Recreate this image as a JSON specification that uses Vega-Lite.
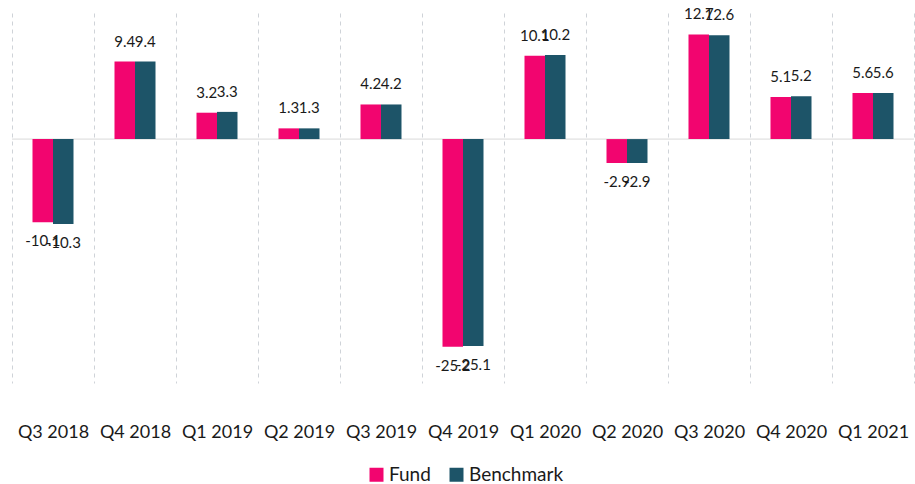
{
  "$schema": "https://vega.github.io/schema/vega-lite/v6.json",
  "width": 902,
  "height": 370,
  "autosize": "none",
  "padding": {"left": 12, "top": 13, "right": 1, "bottom": 101},
  "background": "white",
  "config": {"view": {"stroke": null}, "font": "Lato",
    "locale": {"number": {"decimal": ".", "thousands": ",", "grouping": [3], "currency": ["$", ""], "minus": "-"}}},
  "data": {"values": [
    {"q": "Q3 2018", "s": "Fund", "v": -10.1}, {"q": "Q3 2018", "s": "Benchmark", "v": -10.3},
    {"q": "Q4 2018", "s": "Fund", "v": 9.4}, {"q": "Q4 2018", "s": "Benchmark", "v": 9.4},
    {"q": "Q1 2019", "s": "Fund", "v": 3.2}, {"q": "Q1 2019", "s": "Benchmark", "v": 3.3},
    {"q": "Q2 2019", "s": "Fund", "v": 1.3}, {"q": "Q2 2019", "s": "Benchmark", "v": 1.3},
    {"q": "Q3 2019", "s": "Fund", "v": 4.2}, {"q": "Q3 2019", "s": "Benchmark", "v": 4.2},
    {"q": "Q4 2019", "s": "Fund", "v": -25.2}, {"q": "Q4 2019", "s": "Benchmark", "v": -25.1},
    {"q": "Q1 2020", "s": "Fund", "v": 10.1}, {"q": "Q1 2020", "s": "Benchmark", "v": 10.2},
    {"q": "Q2 2020", "s": "Fund", "v": -2.9}, {"q": "Q2 2020", "s": "Benchmark", "v": -2.9},
    {"q": "Q3 2020", "s": "Fund", "v": 12.7}, {"q": "Q3 2020", "s": "Benchmark", "v": 12.6},
    {"q": "Q4 2020", "s": "Fund", "v": 5.1}, {"q": "Q4 2020", "s": "Benchmark", "v": 5.2},
    {"q": "Q1 2021", "s": "Fund", "v": 5.6}, {"q": "Q1 2021", "s": "Benchmark", "v": 5.6}
  ]},
  "encoding": {
    "x": {"field": "q", "type": "nominal", "sort": null,
      "scale": {"paddingInner": 0, "paddingOuter": 0},
      "axis": {"title": null, "domain": false, "ticks": false, "labelAngle": 0,
        "labelPadding": 40, "labelFontSize": 18, "labelColor": "#1a1a1a", "labelFont": "Lato",
        "grid": true, "tickBand": "extent", "gridDash": [4, 4], "gridColor": "#cfd3d8", "gridWidth": 1}},
    "xOffset": {"field": "s", "type": "nominal", "sort": ["Fund", "Benchmark"],
      "scale": {"paddingInner": 0, "paddingOuter": 1}},
    "y": {"field": "v", "type": "quantitative", "scale": {"domain": [-29.6, 15.3], "nice": false, "zero": true}, "axis": null}
  },
  "layer": [
    {
      "mark": {"type": "rule", "color": "#d9d9d9", "strokeWidth": 1},
      "data": {"values": [{"z": 0}]},
      "encoding": {"y": {"field": "z", "type": "quantitative"}, "x": null, "xOffset": null}
    },
    {
      "mark": {"type": "bar"},
      "encoding": {
        "color": {"field": "s", "type": "nominal", "sort": ["Fund", "Benchmark"],
          "scale": {"domain": ["Fund", "Benchmark"], "range": ["#F2056F", "#1D5468"]},
          "legend": {"title": null, "orient": "none", "legendX": 355, "legendY": 452, "direction": "horizontal",
            "symbolType": "square", "symbolSize": 196, "labelFontSize": 19, "labelColor": "#1a1a1a",
            "columnPadding": 16, "symbolStrokeWidth": 0, "labelOffset": 3}}
      }
    },
    {
      "transform": [{"filter": "datum.v >= 0"}],
      "mark": {"type": "text", "baseline": "bottom", "dy": -12, "fontSize": 15, "color": "#1a1a1a"},
      "encoding": {"text": {"field": "v", "type": "quantitative", "format": ".1f"}}
    },
    {
      "transform": [{"filter": "datum.v < 0"}],
      "mark": {"type": "text", "baseline": "top", "dy": 12, "fontSize": 15, "color": "#1a1a1a"},
      "encoding": {"text": {"field": "v", "type": "quantitative", "format": ".1f"}}
    }
  ]
}
